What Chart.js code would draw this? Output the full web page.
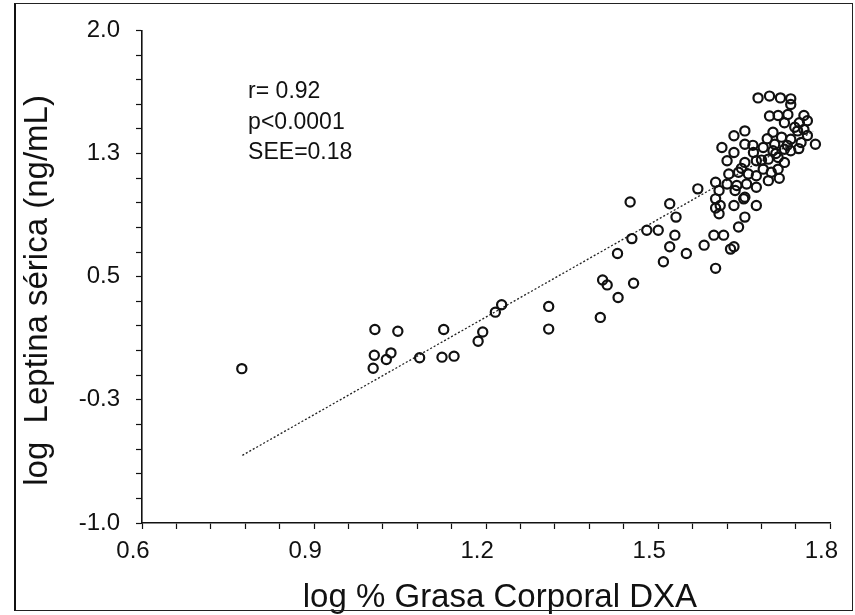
<!DOCTYPE html>
<html>
<head>
<meta charset="utf-8">
<script src="https://cdn.jsdelivr.net/npm/chart.js@4.4.1/dist/chart.umd.min.js"></script>
<style>
  html, body { margin: 0; padding: 0; background: #fff; }
  #wrap { position: relative; width: 855px; height: 615px; }
  #frame { position: absolute; left: 14px; top: 3px; width: 836px; height: 606px;
           border: 1px solid #222; border-left: 2px solid #111; pointer-events: none; }
</style>
</head>
<body>
<div id="wrap">
  <canvas id="leptinChart" width="855" height="615"></canvas>
  <div id="frame"></div>
</div>
<script>
// log % body fat (DXA) vs log serum leptin
const fatLog = [
  0.774, 1.006, 1.046, 1.126, 1.005, 1.034, 1.026, 1.003, 1.084, 1.123,
  1.144, 1.186, 1.194, 1.216, 1.227, 1.309, 1.309, 1.399, 1.403, 1.411,
  1.430, 1.457, 1.429, 1.451, 1.454, 1.480, 1.500, 1.520, 1.531, 1.529,
  1.520, 1.509, 1.549, 1.569, 1.580, 1.597, 1.614, 1.632, 1.600, 1.606,
  1.651, 1.640, 1.600, 1.608, 1.600, 1.632, 1.649, 1.671, 1.606, 1.634,
  1.651, 1.600, 1.620, 1.637, 1.654, 1.671, 1.692, 1.711, 1.623, 1.640,
  1.657, 1.671, 1.620, 1.651, 1.671, 1.692, 1.709, 1.720, 1.709, 1.697,
  1.683, 1.651, 1.632, 1.611, 1.632, 1.651, 1.666, 1.683, 1.700, 1.703,
  1.720, 1.731, 1.731, 1.749, 1.743, 1.754, 1.774, 1.720, 1.746, 1.694,
  1.709, 1.726, 1.754, 1.731, 1.674, 1.694, 1.713, 1.731, 1.626, 1.715,
  1.738, 1.760, 1.690, 1.705, 1.680, 1.645, 1.725, 1.745, 1.760, 1.665,
  1.700
];
const leptinLog = [
  -0.060, 0.178, 0.168, 0.178, 0.022, 0.036, -0.004, -0.058, 0.006, 0.010,
  0.016, 0.107, 0.163, 0.284, 0.329, 0.319, 0.181, 0.252, 0.480, 0.450,
  0.373, 0.460, 0.641, 0.955, 0.732, 0.783, 0.783, 0.944, 0.863, 0.753,
  0.682, 0.591, 0.641, 1.035, 0.692, 0.753, 0.753, 0.682, 0.551, 0.883,
  0.863, 0.803, 0.974, 0.934, 0.918, 0.934, 0.974, 0.934, 1.025, 1.025,
  0.984, 1.075, 1.065, 1.055, 1.065, 1.045, 1.085, 1.099, 1.125, 1.136,
  1.125, 1.115, 1.206, 1.196, 1.206, 1.216, 1.226, 1.196, 1.155, 1.136,
  1.155, 1.388, 1.358, 1.287, 1.256, 1.307, 1.256, 1.287, 1.267, 1.307,
  1.276, 1.267, 1.337, 1.317, 1.388, 1.397, 1.307, 1.438, 1.438, 1.479,
  1.482, 1.488, 1.482, 1.549, 1.589, 1.600, 1.589, 1.583, 0.668, 1.350,
  1.410, 1.450, 1.340, 1.250, 1.210, 1.160, 1.300, 1.280, 1.360, 1.300,
  1.380
];
// regression line end points
const fitX = [0.775, 1.770];
const fitY = [-0.588, 1.385];

const xTickLabels = ['0.6', '0.9', '1.2', '1.5', '1.8'];
const yTickLabels = ['-1.0', '-0.3', '0.5', '1.3', '2.0'];
const statsText = ['r= 0.92', 'p<0.0001', 'SEE=0.18'];

const X_MIN = 0.6, X_MAX = 1.8, X_MINOR = 0.06;
const Y_MIN = -1.0, Y_MAX = 2.0, Y_MINOR = 0.15;
const FONT = '"Liberation Sans", Arial, sans-serif';
const INK = '#111';

const points = fatLog.map((x, i) => ({ x: x, y: leptinLog[i] }));
const fitLine = fitX.map((x, i) => ({ x: x, y: fitY[i] }));

function minorTicks(min, max, step) {
  const n = Math.round((max - min) / step);
  const out = [];
  for (let i = 0; i <= n; i++) out.push({ value: +(min + i * step).toFixed(4) });
  return out;
}

const statsPlugin = {
  id: 'stats',
  afterDatasetsDraw(chart) {
    const { ctx, scales } = chart;
    const x = scales.x.getPixelForValue(0.785);
    const ys = [1.625, 1.437, 1.255];
    ctx.save();
    ctx.fillStyle = INK;
    ctx.font = '23px ' + FONT;
    ctx.textBaseline = 'middle';
    statsText.forEach((t, i) => ctx.fillText(t, x, scales.y.getPixelForValue(ys[i])));
    ctx.restore();
  }
};

const axisCommon = {
  type: 'linear',
  border: { color: INK, width: 1.6 },
  grid: { drawOnChartArea: false, drawTicks: true, tickLength: 6, tickColor: INK, tickWidth: 1.2 },
};

const ctx = document.getElementById('leptinChart').getContext('2d');
const chart = new Chart(ctx, {
  type: 'scatter',
  data: {
    datasets: [
      {
        label: 'Sujetos',
        data: points,
        pointStyle: 'circle',
        pointRadius: 4.6,
        pointBorderWidth: 2.2,
        borderColor: INK,
        backgroundColor: 'rgba(0,0,0,0)',
        order: 0,
      },
      {
        type: 'line',
        label: 'Regresión',
        data: fitLine,
        borderColor: '#222',
        borderWidth: 1.3,
        borderDash: [2, 2],
        pointRadius: 0,
        fill: false,
        order: 1,
      },
    ],
  },
  options: {
    responsive: false,
    animation: false,
    layout: { padding: { left: 17, right: 15, top: 27, bottom: 0 } },
    plugins: {
      legend: { display: false },
      tooltip: { enabled: false }
    },
    scales: {
      x: {
        ...axisCommon,
        min: X_MIN,
        max: X_MAX,
        afterBuildTicks: s => { s.ticks = minorTicks(X_MIN, X_MAX, X_MINOR); },
        afterFit: s => { s.height = 92; },
        ticks: {
          autoSkip: false,
          maxRotation: 0,
          minRotation: 0,
          padding: 8,
          labelOffset: -9,
          color: INK,
          font: { size: 24, family: FONT },
          callback: (v, i) => (i % 5 === 0 ? xTickLabels[i / 5] : '')
        },
        title: {
          display: true,
          text: '   log % Grasa Corporal DXA',
          color: INK,
          font: { size: 33, family: FONT, lineHeight: 1 },
          padding: { top: 0, bottom: 1 }
        }
      },
      y: {
        ...axisCommon,
        min: Y_MIN,
        max: Y_MAX,
        afterBuildTicks: s => { s.ticks = minorTicks(Y_MIN, Y_MAX, Y_MINOR); },
        afterFit: s => { s.width = 125; },
        ticks: {
          autoSkip: false,
          padding: 16,
          color: INK,
          font: { size: 24, family: FONT },
          callback: (v, i) => (i % 5 === 0 ? yTickLabels[i / 5] : '')
        },
        title: {
          display: true,
          text: 'log  Leptina sérica (ng/mL)   ',
          color: INK,
          font: { size: 33, family: FONT, lineHeight: 1 },
          padding: { top: 4, bottom: 0 }
        }
      }
    }
  },
  plugins: [statsPlugin]
});
</script>
</body>
</html>
